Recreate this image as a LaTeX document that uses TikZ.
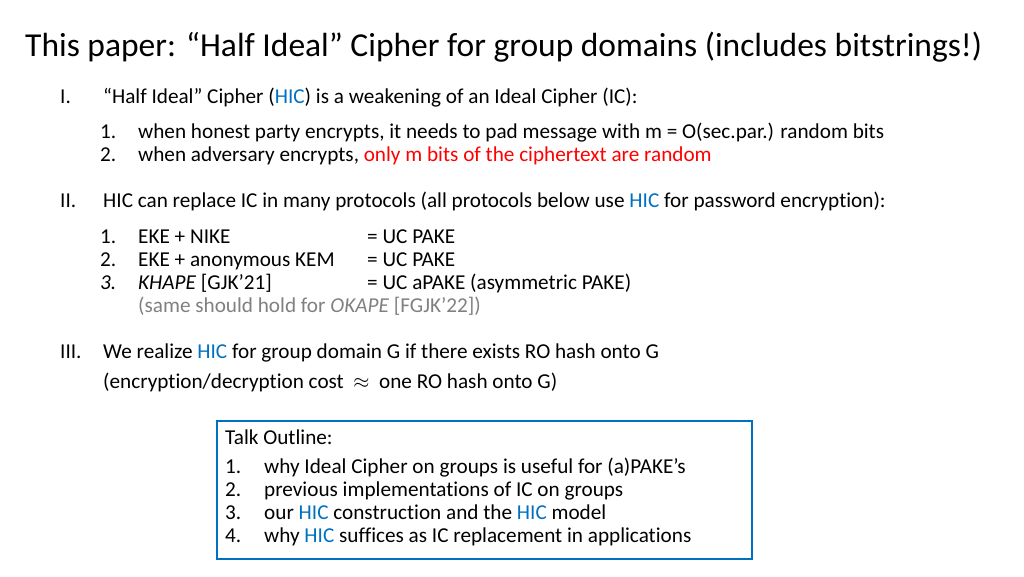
\documentclass[tikz,border=0pt]{standalone}
\usepackage{fontspec}
\setmainfont{Carlito}[Ligatures={NoCommon,TeX}]
\definecolor{hicblue}{RGB}{0,112,192}
\definecolor{gr}{RGB}{128,128,128}
\newcommand{\hic}{\textcolor{hicblue}{HIC}}
\begin{document}
\begin{tikzpicture}[x=1pt,y=-1pt,
  t/.style={anchor=base west,inner sep=0pt,font=\fontsize{21.2}{23}\selectfont},
  tt/.style={anchor=base west,inner sep=0pt,font=\fontsize{33.5}{36}\selectfont}]
\useasboundingbox (0,0) rectangle (1024,576);
\node[tt] (title) at (25,56) {This paper: “Half Ideal” Cipher for group domains (includes bitstrings!)};
\node[t] (n1) at (60,103) {I.};
\node[t] (l1) at (103,103) {“Half Ideal” Cipher (\hic) is a weakening of an Ideal Cipher (IC):};
\node[t] (a1) at (100,138) {1.};
\node[t] (a1t) at (138,138) {when honest party encrypts, it needs to pad message with m = O(sec.par.) random bits};
\node[t] (a2) at (100,161) {2.};
\node[t] (a2t) at (138,161) {when adversary encrypts, \textcolor{red}{only m bits of the ciphertext are random}};
\node[t] (n2) at (60,207) {II.};
\node[t] (l2) at (103,207) {HIC can replace IC in many protocols (all protocols below use \hic{} for password encryption):};
\node[t] (b1) at (100,243) {1.};
\node[t] (b1t) at (138,243) {EKE + NIKE};
\node[t] (b1r) at (367,243) {= UC PAKE};
\node[t] (b2) at (100,266) {2.};
\node[t] (b2t) at (138,266) {EKE + anonymous KEM};
\node[t] (b2r) at (367,266) {= UC PAKE};
\node[t] (b3) at (100,289) {\textit{3.}};
\node[t] (b3t) at (138,289) {\textit{KHAPE} [GJK’21]};
\node[t] (b3r) at (367,289) {= UC aPAKE (asymmetric PAKE)};
\node[t,text=gr] (b4) at (138,312) {(same should hold for \textit{OKAPE} [FGJK’22])};
\node[t] (n3) at (60,358) {III.};
\node[t] (l3) at (103,358) {We realize \hic{} for group domain G if there exists RO hash onto G};
\node[t] (l3b) at (103,388) {(encryption/decryption cost \ $\approx$ \ one RO hash onto G)};
\draw[hicblue,line width=1.2pt] (217,421) rectangle (752,559);
\node[t] (to) at (225,444) {Talk Outline:};
\node[t] (c1) at (225,473) {1.};
\node[t] (c1t) at (264,473) {why Ideal Cipher on groups is useful for (a)PAKE’s};
\node[t] (c2) at (225,496) {2.};
\node[t] (c2t) at (264,496) {previous implementations of IC on groups};
\node[t] (c3) at (225,519) {3.};
\node[t] (c3t) at (264,519) {our \hic{} construction and the \hic{} model};
\node[t] (c4) at (225,542) {4.};
\node[t] (c4t) at (264,542) {why \hic{} suffices as IC replacement in applications};
\end{tikzpicture}
\end{document}
